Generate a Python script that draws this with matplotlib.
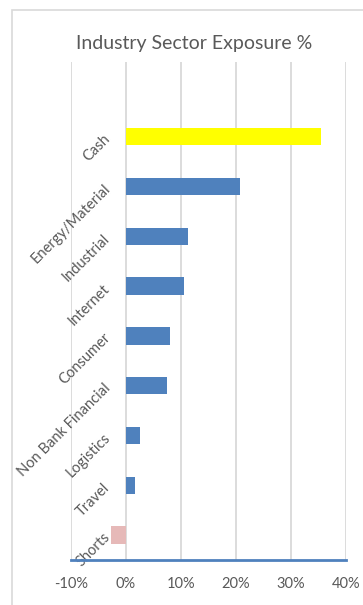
import matplotlib.pyplot as plt
from matplotlib.patches import Rectangle

categories = ['Shorts', 'Travel', 'Logistics', 'Non Bank Financial', 'Consumer',
              'Internet', 'Industrial', 'Energy/Material', 'Cash']
values = [-2.7, 1.6, 2.5, 7.5, 8.0, 10.5, 11.3, 20.7, 35.5]
colors = ['#E6B9B8', '#4F81BD', '#4F81BD', '#4F81BD', '#4F81BD',
          '#4F81BD', '#4F81BD', '#4F81BD', '#FFFF00']
xticks = [-10, 0, 10, 20, 30, 40]

plt.rcParams['font.family'] = ['Lato', 'DejaVu Sans']
txt = '#595959'

fig = plt.figure(figsize=(3.63, 6.05), dpi=100)
fig.patches.append(Rectangle((12 / 363, -0.1), 1.1, 1 - 10 / 605 + 0.1,
                             transform=fig.transFigure, fill=False,
                             edgecolor='#D9D9D9', lw=1.2))
ax = fig.add_axes([71 / 363, 1 - 560 / 605, 275 / 363, 498 / 605])

pos = list(range(len(categories)))
ax.barh(pos, values, height=0.35, color=colors, zorder=3)

ax.set_xlim(-10, 40)
ax.set_ylim(-0.5, len(categories) + 0.5)
ax.set_xticks(xticks)
ax.set_xticklabels([f'{t}%' for t in xticks], color=txt, fontsize=10.5)
ax.set_yticks([])
ax.tick_params(axis='x', length=0, pad=12)
ax.grid(axis='x', color='#D9D9D9', lw=1.3, zorder=0)
for s in ['top', 'right', 'left']:
    ax.spines[s].set_visible(False)
ax.spines['bottom'].set_color('#4F81BD')
ax.spines['bottom'].set_linewidth(2)
ax.spines['bottom'].set_zorder(4)

for p, c in zip(pos, categories):
    ax.text(-3.3, p, c, ha='right', va='center', rotation=45,
            rotation_mode='anchor', color=txt, fontsize=10.5)

fig.text(194 / 363, 1 - 44 / 605, 'Industry Sector Exposure %', ha='center',
         va='center', color=txt, fontsize=14)

fig.savefig('out.png', dpi=100)
